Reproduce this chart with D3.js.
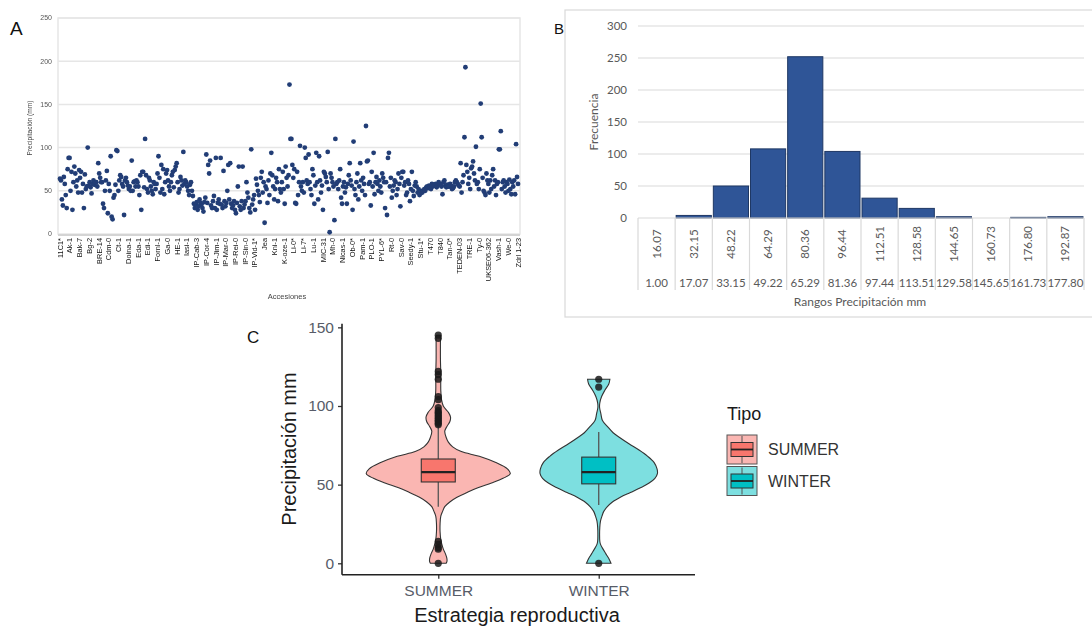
<!DOCTYPE html>
<html>
<head>
<meta charset="utf-8">
<script src="https://cdn.jsdelivr.net/npm/d3@7"></script>
<style>
  body { margin: 0; background: #fff; }
  svg { display: block; }
</style>
</head>
<body>
<svg id="fig" width="1092" height="630"></svg>
<script>
// ---------- Panel A: precipitation per accession ----------
const accessionLabels = ["11C1*","Ak-1","Bak-7","Bg-2","BRE-14","Cdm-0","Ct-1","Doina-1","Eda-1","Edi-1",
  "Fornl-1","Ga-0","HE-1","Iasi-1","IP-Cab-3","IP-Cor-4","IP-Jim-1","IP-Mar-0","IP-Rei-0","IP-Sin-0",
  "IP-Vid-1*","Jea","Kni-1","K-oze-1","Li-0*","Li-7*","Lu-1","MIC-31","Mh-0","Nicas-1",
  "Ob-0*","Pam-1","PLO-1","PYL-6*","Rt-0","Sav-0","Seedy-1","Stu-1*","T470","T840",
  "Tan-0*","TEDEN-03","TRE-1","Ty-0","UKSE06-362","Vash-1","We-0","Zdrl 1-23"];

const precipitation = [
  64,62,40,33,66,58,45,30,75,88,88,50,72,28,60,78,70,55,62,48,
  74,65,72,48,58,30,69,52,55,100,56,60,54,47,58,62,57,60,60,55,
  82,70,65,60,60,35,30,50,62,73,24,58,50,90,20,17,42,45,57,97,
  96,50,62,68,66,58,55,22,62,65,60,56,52,55,50,85,50,60,61,55,
  62,60,55,45,68,28,72,72,54,110,68,52,48,65,62,55,50,46,60,58,
  52,58,70,90,65,48,80,52,75,46,60,70,74,62,55,50,60,68,72,54,
  74,78,82,60,48,52,66,62,56,95,58,62,60,55,50,45,57,60,50,44,
  35,30,34,37,28,32,40,36,34,30,26,37,42,92,36,80,70,85,33,30,
  38,44,30,88,28,36,40,35,88,34,30,73,38,32,36,50,80,40,82,35,
  30,33,38,28,24,36,55,78,32,28,38,78,30,34,38,60,48,42,30,25,
  98,34,40,45,28,64,57,50,45,37,65,72,48,60,13,55,52,36,62,45,
  70,94,68,55,40,52,65,60,38,75,52,48,60,72,52,35,78,65,55,68,
  173,110,110,80,65,75,36,35,72,45,60,102,55,50,60,48,100,88,62,58,
  92,60,52,45,75,68,35,56,94,60,40,90,62,48,56,28,72,70,66,60,
  95,52,2,70,65,60,55,16,110,58,60,52,62,75,42,35,55,60,48,54,
  35,58,68,82,62,56,28,107,52,45,60,70,40,55,82,62,50,65,58,45,
  125,84,85,58,60,33,72,55,94,46,60,66,58,50,62,55,48,70,65,60,
  30,60,22,88,94,55,65,42,50,56,62,60,45,52,70,58,32,65,72,72,
  56,60,45,48,62,58,38,52,72,50,44,56,60,55,48,52,45,47,50,48,
  50,52,50,54,55,53,56,54,52,58,55,57,56,58,54,56,60,58,57,55,
  46,60,62,56,54,57,55,55,58,56,52,53,55,60,62,60,58,56,55,82,
  48,60,68,112,193,80,72,58,65,52,76,78,84,70,62,101,58,60,52,75,
  151,112,65,50,48,45,70,62,58,48,62,52,68,75,55,62,45,58,60,98,
  98,119,52,60,62,55,48,60,58,50,63,52,46,60,55,62,46,104,66,58
];
const precipTicks = [0, 50, 100, 150, 200, 250];

// ---------- Panel B: histogram of precipitation ranges ----------
const binUpper = ["16.07","32.15","48.22","64.29","80.36","96.44","112.51","128.58","144.65","160.73","176.80","192.87"];
const binLower = ["1.00","17.07","33.15","49.22","65.29","81.36","97.44","113.51","129.58","145.65","161.73","177.80"];
const binCounts = [0, 4, 50, 108, 252, 104, 31, 15, 2, 0, 1, 2];
const freqTicks = [0, 50, 100, 150, 200, 250, 300];

// ---------- Panel C: violin + box plots by reproductive strategy ----------
const strategies = ["SUMMER", "WINTER"];
// [precipitation mm, relative density]
const summerDensity = [
  [0,0.11],[1,0.12],[3,0.12],[6,0.1],[9,0.07],[12,0.05],[15,0.035],[20,0.025],[25,0.025],[30,0.035],
  [33,0.06],[36,0.09],[39,0.16],[42,0.26],[45,0.4],[48,0.55],[51,0.74],[54,0.9],[57,1.0],[60,0.96],
  [64,0.8],[68,0.57],[71,0.32],[74,0.2],[77,0.14],[80,0.11],[84,0.09],[87,0.12],[90,0.16],[93,0.17],
  [96,0.14],[100,0.07],[104,0.045],[110,0.035],[120,0.035],[130,0.03],[140,0.03],[143,0.03],[145,0.03]
];
const winterDensity = [
  [0,0.17],[3,0.14],[6,0.1],[9,0.06],[12,0.025],[14,0.015],[18,0.012],[23,0.015],[27,0.025],[30,0.045],
  [33,0.07],[36,0.12],[39,0.19],[42,0.3],[45,0.44],[48,0.58],[51,0.7],[54,0.78],[57,0.815],[60,0.81],
  [64,0.77],[68,0.68],[72,0.56],[76,0.42],[80,0.29],[83,0.2],[87,0.12],[91,0.05],[95,0.03],[99,0.012],
  [102,0.015],[106,0.04],[110,0.085],[114,0.14],[117,0.155]
];
// [lower whisker, Q1, median, Q3, upper whisker]
const summerBox = [36, 51.7, 57.9, 66.3, 87];
const winterBox = [37, 50.5, 57.9, 67.5, 83.5];
const summerOutliers = [145, 143, 122, 120, 117, 106, 104, 99, 97, 96, 95, 94, 93, 92, 91, 90, 89, 88, 14, 12, 10, 9, 0];
const winterOutliers = [117, 112, 0];
const violinTicks = [0, 50, 100, 150];

const svg = d3.select("#fig");
svg.append("rect").attr("width", 1092).attr("height", 630).attr("fill", "#fff");

const defs = svg.append("defs");
defs.append("filter").attr("id", "soft").attr("x", "-5%").attr("y", "-5%").attr("width", "110%").attr("height", "110%")
  .append("feGaussianBlur").attr("stdDeviation", 0.35);

// ===================== Panel A =====================
const gA = svg.append("g").attr("filter", "url(#soft)");
const xA = d3.scaleLinear().domain([0, precipitation.length - 1]).range([60, 518]);
const yA = d3.scaleLinear().domain([0, 250]).range([234, 18]);

gA.selectAll("line.grid").data(precipTicks.filter(d => d > 0)).join("line")
  .attr("class", "grid")
  .attr("x1", 58).attr("x2", 520)
  .attr("y1", d => yA(d)).attr("y2", d => yA(d))
  .attr("stroke", "#e6e6e6").attr("stroke-width", 1.5);
gA.append("rect").attr("x", 58).attr("y", yA(250)).attr("width", 462).attr("height", yA(0) - yA(250))
  .attr("fill", "none").attr("stroke", "#e6e6e6").attr("stroke-width", 1.5);
gA.append("line").attr("x1", 58).attr("x2", 520).attr("y1", yA(0) + 1).attr("y2", yA(0) + 1)
  .attr("stroke", "#d4d4d4").attr("stroke-width", 2);

gA.selectAll("text.yt").data(precipTicks).join("text")
  .attr("class", "yt")
  .attr("x", 52).attr("y", d => yA(d) + 2.4)
  .attr("text-anchor", "end")
  .attr("font-family", "Liberation Sans, Arial, sans-serif")
  .attr("font-size", 7).attr("fill", "#555")
  .text(d => d);

gA.append("text")
  .attr("transform", "translate(32,128) rotate(-90)")
  .attr("text-anchor", "middle")
  .attr("font-family", "Liberation Sans, Arial, sans-serif")
  .attr("font-size", 6.6).attr("fill", "#444")
  .text("Precipitación (mm)");

gA.selectAll("circle").data(precipitation).join("circle")
  .attr("cx", (d, i) => xA(i)).attr("cy", d => yA(d))
  .attr("r", 2.4).attr("fill", "#213e76");

const labelStep = (precipitation.length - 1) / (accessionLabels.length - 1);
gA.selectAll("text.xl").data(accessionLabels).join("text")
  .attr("class", "xl")
  .attr("transform", (d, i) => `translate(${xA(i * labelStep) + 2.6},238) rotate(-90)`)
  .attr("text-anchor", "end")
  .attr("font-family", "Liberation Sans, Arial, sans-serif")
  .attr("font-size", 7.4).attr("fill", "#111")
  .text(d => d);

gA.append("text").attr("x", 287).attr("y", 299).attr("text-anchor", "middle")
  .attr("font-family", "Liberation Sans, Arial, sans-serif")
  .attr("font-size", 7.5).attr("fill", "#444").text("Accesiones");

svg.append("text").attr("x", 10).attr("y", 34.5)
  .attr("font-family", "Liberation Sans, Arial, sans-serif")
  .attr("font-size", 19).attr("fill", "#111").text("A");

// ===================== Panel B =====================
const gB = svg.append("g");
const xB = d3.scaleBand().domain(binUpper).range([638, 1084]);
const yB = d3.scaleLinear().domain([0, 300]).range([218, 26]);
const fontB = "Lato, 'Open Sans', sans-serif";

gB.append("rect").attr("x", 565).attr("y", 10).attr("width", 540).attr("height", 307)
  .attr("fill", "none").attr("stroke", "#d9d9d9").attr("stroke-width", 1.2);

gB.selectAll("line.grid").data(freqTicks.filter(d => d > 0)).join("line")
  .attr("class", "grid")
  .attr("x1", 638).attr("x2", 1084)
  .attr("y1", d => yB(d)).attr("y2", d => yB(d))
  .attr("stroke", "#d9d9d9").attr("stroke-width", 1.2);

gB.selectAll("text.yt").data(freqTicks).join("text")
  .attr("class", "yt")
  .attr("x", 627).attr("y", d => yB(d) + 4)
  .attr("text-anchor", "end")
  .attr("font-family", fontB).attr("font-size", 11.5).attr("fill", "#595959")
  .text(d => d);

gB.append("text")
  .attr("transform", "translate(598,122) rotate(-90)")
  .attr("text-anchor", "middle")
  .attr("font-family", fontB).attr("font-size", 12).attr("fill", "#595959")
  .text("Frecuencia");

gB.selectAll("rect.bar").data(binUpper.map((b, i) => ({ b, n: binCounts[i] })).filter(d => d.n > 0)).join("rect")
  .attr("class", "bar")
  .attr("x", d => xB(d.b) + 1).attr("width", xB.bandwidth() - 2)
  .attr("y", d => yB(d.n)).attr("height", d => yB(0) - yB(d.n))
  .attr("fill", "#2f5597").attr("stroke", "#1f3864").attr("stroke-width", 1);

// category table beneath the bars
gB.append("line").attr("x1", 638).attr("x2", 1084).attr("y1", yB(0)).attr("y2", yB(0))
  .attr("stroke", "#d9d9d9").attr("stroke-width", 1.2);
gB.selectAll("line.col").data(binUpper.concat(["end"])).join("line")
  .attr("class", "col")
  .attr("x1", (d, i) => 638 + i * xB.step()).attr("x2", (d, i) => 638 + i * xB.step())
  .attr("y1", yB(0)).attr("y2", 290)
  .attr("stroke", "#d9d9d9").attr("stroke-width", 1.2);

gB.selectAll("text.up").data(binUpper).join("text")
  .attr("class", "up")
  .attr("transform", d => `translate(${xB(d) + xB.bandwidth() / 2 + 4},244) rotate(-90)`)
  .attr("text-anchor", "middle")
  .attr("font-family", fontB).attr("font-size", 11.5).attr("fill", "#595959")
  .text(d => d);

gB.selectAll("text.lo").data(binLower).join("text")
  .attr("class", "lo")
  .attr("x", (d, i) => xB(binUpper[i]) + xB.bandwidth() / 2).attr("y", 287)
  .attr("text-anchor", "middle")
  .attr("font-family", fontB).attr("font-size", 11.5).attr("fill", "#595959")
  .text(d => d);

gB.append("text").attr("x", 860).attr("y", 306).attr("text-anchor", "middle")
  .attr("font-family", fontB).attr("font-size", 12).attr("fill", "#595959")
  .text("Rangos Precipitación mm");

svg.append("text").attr("x", 554).attr("y", 33.5)
  .attr("font-family", "Liberation Sans, Arial, sans-serif")
  .attr("font-size", 15).attr("fill", "#111").text("B");

// ===================== Panel C =====================
const gC = svg.append("g");
const xC = d3.scalePoint().domain(strategies).range([342, 695]).padding(0.6);
const yC = d3.scaleLinear().domain([-7.25, 152.25]).range([574.7, 323.8]);
const halfW = d3.scaleLinear().domain([0, 1]).range([0, 72]);
const fills = { SUMMER: ["#fab6b2", "#f8766d"], WINTER: ["#7ddfe0", "#00bfc4"] };
const groups = [
  { key: "SUMMER", dens: summerDensity, box: summerBox, out: summerOutliers },
  { key: "WINTER", dens: winterDensity, box: winterBox, out: winterOutliers }
];

groups.forEach(g => {
  const cx = xC(g.key);
  const violin = d3.area()
    .y(d => yC(d[0]))
    .x0(d => cx - halfW(d[1]))
    .x1(d => cx + halfW(d[1]))
    .curve(d3.curveCatmullRom);
  gC.append("path").attr("d", violin(g.dens))
    .attr("fill", fills[g.key][0]).attr("stroke", "#333").attr("stroke-width", 1.1);

  const [lo, q1, med, q3, hi] = g.box;
  gC.append("line").attr("x1", cx).attr("x2", cx).attr("y1", yC(hi)).attr("y2", yC(q3))
    .attr("stroke", "#555").attr("stroke-width", 1.3);
  gC.append("line").attr("x1", cx).attr("x2", cx).attr("y1", yC(q1)).attr("y2", yC(lo))
    .attr("stroke", "#555").attr("stroke-width", 1.3);
  gC.append("rect").attr("x", cx - 17).attr("width", 34)
    .attr("y", yC(q3)).attr("height", yC(q1) - yC(q3))
    .attr("fill", fills[g.key][1]).attr("stroke", "#333").attr("stroke-width", 1.1);
  gC.append("line").attr("x1", cx - 17).attr("x2", cx + 17).attr("y1", yC(med)).attr("y2", yC(med))
    .attr("stroke", "#222").attr("stroke-width", 2.2);

  gC.selectAll(null).data(g.out).join("circle")
    .attr("cx", cx).attr("cy", d => yC(d)).attr("r", 3.6)
    .attr("fill", "#1a1a1a").attr("fill-opacity", 0.85);
});

// axes
const axisY = d3.axisLeft(yC).tickValues(violinTicks).tickSize(4).tickPadding(4);
const gy = gC.append("g").attr("transform", "translate(342,0)").call(axisY);
gy.select(".domain").remove();
gy.selectAll(".tick line").attr("stroke", "#333").attr("stroke-width", 1.3);
gy.selectAll(".tick text").attr("font-family", "Liberation Sans, Arial, sans-serif")
  .attr("font-size", 15.5).attr("fill", "#575c68");

const axisX = d3.axisBottom(xC).tickSize(4).tickPadding(6);
const gx = gC.append("g").attr("transform", "translate(0,574.7)").call(axisX);
gx.select(".domain").remove();
gx.selectAll(".tick line").attr("stroke", "#333").attr("stroke-width", 1.3);
gx.selectAll(".tick text").attr("font-family", "Liberation Sans, Arial, sans-serif")
  .attr("font-size", 15.5).attr("fill", "#575c68");

gC.append("line").attr("x1", 342).attr("x2", 342).attr("y1", 323.8).attr("y2", 574.7)
  .attr("stroke", "#222").attr("stroke-width", 1.6);
gC.append("line").attr("x1", 342).attr("x2", 695).attr("y1", 574.7).attr("y2", 574.7)
  .attr("stroke", "#222").attr("stroke-width", 1.6);

gC.append("text").attr("transform", "translate(296,449) rotate(-90)")
  .attr("text-anchor", "middle")
  .attr("font-family", "Liberation Sans, Arial, sans-serif")
  .attr("font-size", 20).attr("fill", "#1a1a1a").text("Precipitación mm");
gC.append("text").attr("x", 517).attr("y", 622).attr("text-anchor", "middle")
  .attr("font-family", "Liberation Sans, Arial, sans-serif")
  .attr("font-size", 20).attr("fill", "#1a1a1a").text("Estrategia reproductiva");

// legend
const gL = gC.append("g");
gL.append("text").attr("x", 727).attr("y", 420)
  .attr("font-family", "Liberation Sans, Arial, sans-serif")
  .attr("font-size", 18).attr("fill", "#1a1a1a").text("Tipo");
strategies.forEach((s, i) => {
  const top = 435 + i * 31.5;
  const k = gL.append("g").attr("transform", `translate(727,${top})`);
  k.append("rect").attr("width", 30).attr("height", 29)
    .attr("fill", fills[s][0]).attr("stroke", "#555").attr("stroke-width", 1);
  k.append("line").attr("x1", 15).attr("x2", 15).attr("y1", 1).attr("y2", 28)
    .attr("stroke", "#555").attr("stroke-width", 1);
  k.append("rect").attr("x", 4).attr("y", 7.5).attr("width", 22).attr("height", 14)
    .attr("fill", fills[s][1]).attr("stroke", "#333").attr("stroke-width", 1);
  k.append("line").attr("x1", 4).attr("x2", 26).attr("y1", 14.5).attr("y2", 14.5)
    .attr("stroke", "#222").attr("stroke-width", 1.8);
  gL.append("text").attr("x", 768).attr("y", top + 20)
    .attr("font-family", "Liberation Sans, Arial, sans-serif")
    .attr("font-size", 16).attr("fill", "#333").text(s);
});

svg.append("text").attr("x", 247).attr("y", 343)
  .attr("font-family", "Liberation Sans, Arial, sans-serif")
  .attr("font-size", 17).attr("fill", "#111").text("C");
</script>
</body>
</html>
